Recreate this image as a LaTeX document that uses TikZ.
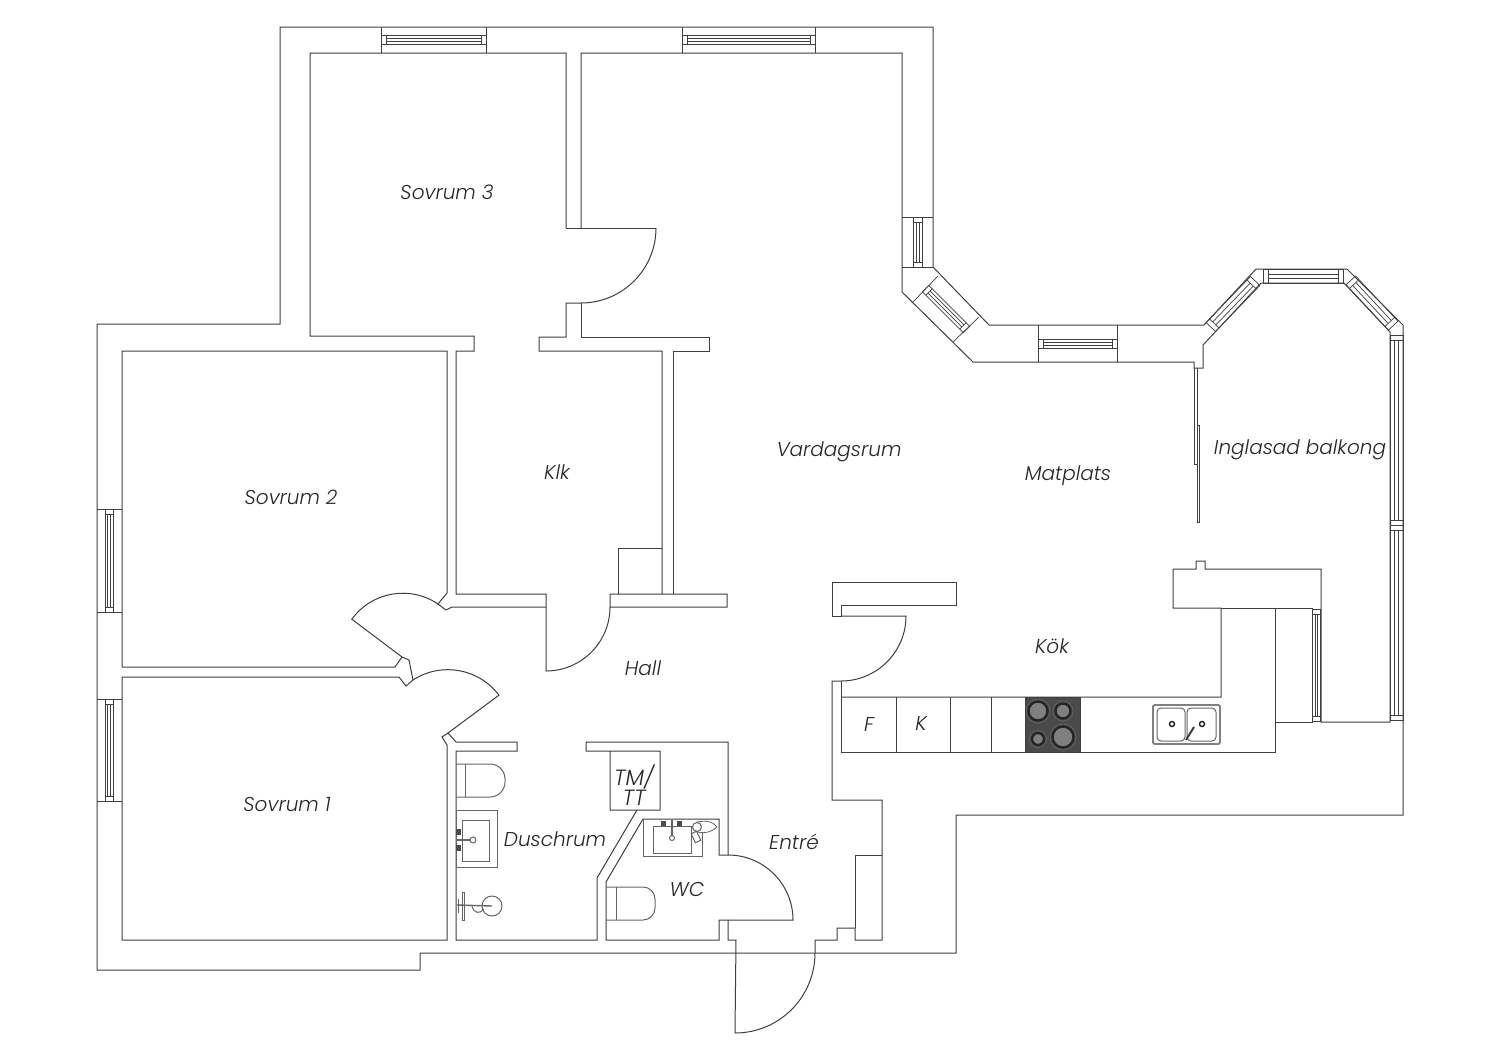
\documentclass[tikz,border=0pt]{standalone}
\usepackage{fontspec}
\setmainfont{Poppins}[UprightFont=* Light,ItalicFont=* Light Italic]
\definecolor{wallgray}{HTML}{3F3F3F}
\definecolor{hobgray}{HTML}{4A4A4A}
\definecolor{ringgray}{HTML}{808080}
\newcommand{\winstrip}[5]{%
  \begin{scope}[shift={(#1,#2)},rotate=#3]
    \draw[glass] ({-#4/2},-#5) rectangle ({#4/2},#5);
    \draw[glass] ({-#4/2+5},-#5) -- ({-#4/2+5},#5);
    \draw[glass] ({#4/2-5},-#5) -- ({#4/2-5},#5);
    \draw[glass] ({-#4/2+5},{-#5/3}) -- ({#4/2-5},{-#5/3});
    \draw[glass] ({-#4/2+5},{#5/3}) -- ({#4/2-5},{#5/3});
  \end{scope}}
\begin{document}
\begin{tikzpicture}[x=1pt,y=-1pt,
    wall/.style={draw=wallgray, line width=1pt, line join=miter},
    glass/.style={draw=wallgray, line width=0.7pt},
    fixture/.style={draw=wallgray!80, line width=1pt},
    room/.style={font=\fontsize{20}{20}\selectfont\itshape, text=black!85, inner sep=0pt},
    tmroom/.style={room, align=center, font=\fontsize{22}{19}\selectfont\itshape}]
  \useasboundingbox (0,0) rectangle (1500,1060);
  \draw[wall] (280,27) -- (933,27) -- (933,267) -- (989,325) -- (1204,325) -- (1256,269) -- (1347,269) -- (1403,325)
    -- (1403,815) -- (956,815) -- (956,953) -- (420,953) -- (420,970) -- (97,970) -- (97,324) -- (280,324) -- cycle;
  \draw[wall] (566,228) -- (566,53) -- (310,53) -- (310,336) -- (474,336) -- (474,351) -- (456,351) -- (456,594)
    -- (546,594) -- (546,671) arc[start angle=90,end angle=0,radius=64] -- (610,594) -- (727,594) -- (727,607) -- (610,607);
  \draw[wall] (546,607) -- (452,607) -- (446,610);
  \draw[wall] (656,228) -- (566,228);
  \draw[wall] (656,228) arc[start angle=0,end angle=90,radius=75] -- (566,303) -- (566,337) -- (539,337) -- (539,351)
    -- (662,351) -- (662,594);
  \draw[wall] (581,303) -- (581,337) -- (709,337) -- (709,351) -- (673,351) -- (673,594);
  \draw[wall] (618,594) -- (618,548) -- (662,548);
  \draw[wall] (581,228) -- (581,53) -- (902,53) -- (902,292) -- (973,362) -- (1194,362) -- (1194,368) -- (1203,368)
    -- (1203,345) -- (1261,283) -- (1344,283) -- (1390,332) -- (1390,722) -- (1321,722) -- (1321,569) -- (1205,569)
    -- (1205,561) -- (1196,561) -- (1196,569) -- (1173,569) -- (1173,608) -- (1221,608) -- (1221,697) -- (841,697);
  \draw[wall] (1221,608) -- (1312,608) -- (1312,722) -- (1275,722);
  \draw[wall] (841,681) -- (841,752) -- (1275,752) -- (1275,608);
  \foreach \i in {896,950,991} {
    \draw[wall] (\i,697) -- (\i,752);
  }
  \draw[wall] (832,582) -- (956,582) -- (956,605) -- (841,605) -- (841,616) -- (832,616) -- cycle;
  \draw[wall] (841,616) -- (906,616) arc[start angle=0,end angle=90,radius=65] -- (832,681) -- (832,800) -- (882,800)
    -- (882,940) -- (855,940) -- (855,928) -- (837,928) -- (837,940) -- (815,940) -- (815,953)
    arc[start angle=0,end angle=90,radius=80] -- (736,940) -- (728,940) -- (728,920) -- (793,920)
    arc[start angle=0,end angle=-90,radius=65] -- (728,742) -- (586,742) -- (586,751) -- (660,751) -- (660,810) -- (610,810) -- (610,751);
  \draw[wall] (855,928) -- (855,855) -- (882,855);
  \draw[wall] (728,855) -- (719,855) -- (719,819) -- (643,819) -- (606,882) -- (606,940) -- (719,940) -- (719,920) -- (728,920);
  \draw[wall] (637,810) -- (597,878) -- (597,940) -- (456,940) -- (456,751) -- (517,751) -- (517,742) -- (456,742) -- (448,733);
  \draw[wall] (448,733) -- (442,737) -- (447,745) -- (447,940) -- (122,940) -- (122,677) -- (399,677) -- (406,686) -- (413,680) -- (409,660) -- (402,657)
    -- (395,667) -- (122,667) -- (122,351) -- (447,351) -- (447,593) -- (438,604) -- (446,610);
  \draw[wall] (438,604) arc[start angle=-56,end angle=-144,radius=63] -- (402,657);
  \draw[wall] (413,680) arc[start angle=-123,end angle=-37,radius=64] -- (448,733);
  \foreach \xa/\xb in {381/486,682/815} {
    \draw[glass] (\xa,27) -- (\xa,53);
    \draw[glass] (\xb,27) -- (\xb,53);
  }
  \winstrip{433.5}{40}{0}{105}{4.5}
  \winstrip{748.5}{40}{0}{133}{4.5}
  \foreach \ya/\yb in {509/612,699/801} {
    \draw[glass] (97,\ya) -- (122,\ya);
    \draw[glass] (97,\yb) -- (122,\yb);
  }
  \winstrip{109}{560.5}{90}{103}{4}
  \winstrip{109}{750}{90}{102}{4}
  \draw[glass] (902,217) -- (933,217);
  \draw[glass] (902,267) -- (933,267);
  \winstrip{917.5}{242}{90}{50}{4.5}
  \draw[glass] (938,276) -- (913,302);
  \draw[glass] (979,317) -- (953,342);
  \winstrip{946}{309}{-45}{58}{4.5}
  \draw[glass] (1038,325) -- (1038,362);
  \draw[glass] (1117,325) -- (1117,362);
  \winstrip{1077.5}{343.5}{0}{79}{4.5}
  \winstrip{1233}{304}{46}{64}{6.5}
  \winstrip{1303.5}{276.5}{0}{80}{7}
  \winstrip{1372}{303}{-47}{62}{6.5}
  \winstrip{1396.5}{430.5}{90}{190}{6.5}
  \winstrip{1396.5}{623}{90}{195}{6.5}
  \winstrip{1316.5}{665}{90}{112}{4}
  \draw[glass] (1194,368) -- (1194,464) -- (1197,464);
  \draw[glass] (1197,368) -- (1197,522) -- (1199.5,522) -- (1199.5,425) -- (1197,425);
  % hob and sink
  \fill[hobgray, draw=wallgray] (1025,697) rectangle (1080,752);
  \foreach \cx/\cy/\rr in {1038/711/9.5,1063/711/7.5,1038/739/6,1063/737/10.5} {
    \draw[black!85, fill=ringgray, line width=2.4pt] (\cx,\cy) circle[radius=\rr];
    \draw[black!60, line width=0.7pt] (\cx,\cy) circle[radius={\rr+2.5}];
  }
  \draw[fixture, line width=1.8pt, rounded corners=1.5pt, draw=black!50] (1153,705) rectangle (1220,744);
  \draw[fixture, rounded corners=4pt] (1157,708) rectangle (1185,741);
  \draw[fixture, rounded corners=4pt] (1187,708) rectangle (1216,741);
  \foreach \cx in {1172,1202} {
    \draw[black!85, line width=1.5pt] (\cx,724) circle[radius=2.5];
  }
  \draw[black!75, line width=2pt] (1186,740) -- (1194,727);
  % bath fixtures
  \draw[fixture] (456,764) -- (490,764) arc[start angle=-90,end angle=0,radius=15] -- (505,782)
    arc[start angle=0,end angle=90,radius=15] -- (456,797);
  \draw[fixture] (465,764) -- (465,797);
  \draw[fixture] (456,810) rectangle (497,867);
  \draw[fixture] (462,820) rectangle (489,861);
  \draw[fixture, line width=1.6pt] (457,840) -- (470,840);
  \draw[fixture, fill=white] (473,840) circle[radius=3];
  \fill[black!70] (456,829) rectangle (461,835);
  \fill[black!70] (456,845) rectangle (461,851);
  \draw[fixture] (492,906) circle[radius=10];
  \draw[fixture] (462,892) rectangle (464,920);
  \draw[fixture, line width=1.4pt] (457,905) -- (492,906);
  \draw[fixture] (458,899) -- (458,913);
  \draw[fixture] (472,906) .. controls (474,914) and (480,914) .. (484,909);
  \draw[fixture] (606,887) -- (643,887) arc[start angle=-90,end angle=0,radius=12] -- (655,908)
    arc[start angle=0,end angle=90,radius=12] -- (606,920);
  \draw[fixture] (616,887) -- (616,920);
  \draw[fixture] (643,819) -- (643,856) -- (702,856) -- (702,832);
  \draw[fixture] (653,826) rectangle (691,853);
  \draw[fixture, line width=1.4pt] (672,820) -- (672,836);
  \draw[fixture, fill=white] (672,838) circle[radius=2.5];
  \fill[black!70] (661,821) rectangle (666,826);
  \fill[black!70] (677,821) rectangle (682,826);
  \draw[fixture, line width=0.8pt] (697,822) .. controls (706,820) and (714,822) .. (717,827) .. controls (712,832) and (704,834) .. (697,832) -- cycle;
  \draw[fixture, fill=white] (697,827) circle[radius=4.5];
  \draw[fixture, rotate around={25:(696,837)}] (693,832) rectangle (699,842);
  % room labels
  \node[room] (sovrum3) at (447,192) {Sovrum 3};
  \node[room] (sovrum2) at (291,497) {Sovrum 2};
  \node[room] (sovrum1) at (287,805) {Sovrum 1};
  \node[room] (klk) at (557,472) {Klk};
  \node[room] (vardagsrum) at (839,452) {Vardagsrum};
  \node[room] (matplats) at (1068,476) {Matplats};
  \node[room] (balkong) at (1300,450) {Inglasad balkong};
  \node[room] (kok) at (1052,646) {Kök};
  \node[room] (hall) at (643,668) {Hall};
  \node[room] (duschrum) at (555,839) {Duschrum};
  \node[tmroom] (tmtt) at (634,785) {TM/\\TT};
  \node[room] (wc) at (687,889) {WC};
  \node[room] (entre) at (794,842) {Entré};
  \node[room] (fridge) at (869,725) {F};
  \node[room] (freezer) at (921,724) {K};
\end{tikzpicture}
\end{document}
